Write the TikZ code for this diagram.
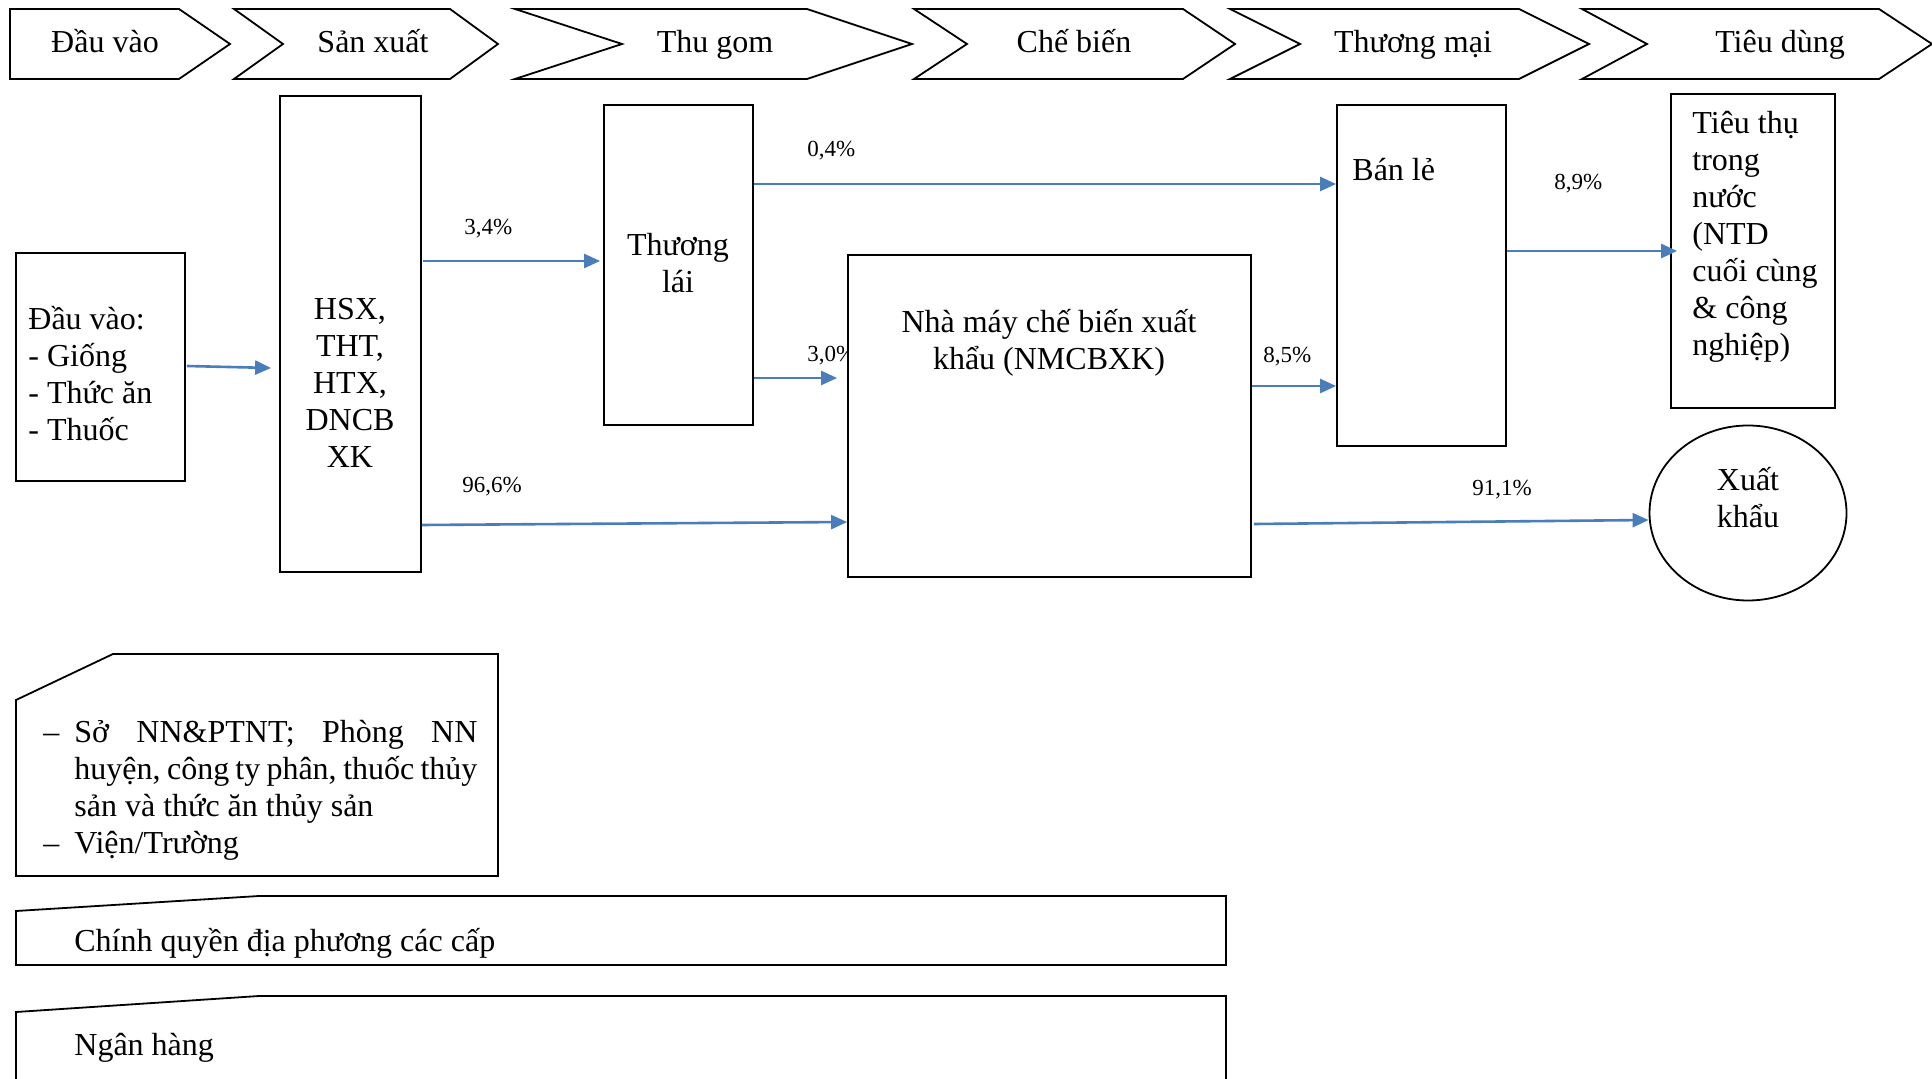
\documentclass[tikz,border=0pt]{standalone}
\usepackage{fontspec}
\setmainfont{Liberation Serif}
\usetikzlibrary{arrows.meta,calc,fit,shapes.geometric}
\definecolor{arrblue}{RGB}{74,126,187}
\begin{document}
\begin{tikzpicture}[x=0.5pt,y=-0.5pt,
  box/.style={draw=black, line width=0.9pt, fill=white, inner sep=0pt},
  txt/.style={font=\fontsize{16}{18.5}\selectfont, inner sep=0pt},
  pct/.style={font=\fontsize{11.5}{13}\selectfont, inner sep=0pt},
  arr/.style={draw=arrblue, line width=1.3pt, -{Triangle[length=8pt,width=7pt]}},
  shp/.style={draw=black, line width=0.9pt, line join=miter}
]
\useasboundingbox[fill=white] (0,0) rectangle (1932,1079);

% ---- top chevrons ----
\draw[shp] (10,9) -- (179,9) -- (230,44) -- (179,79) -- (10,79) -- cycle;
\draw[shp] (234,9) -- (450,9) -- (498,44) -- (450,79) -- (234,79) -- (283,44) -- cycle;
\draw[shp] (515,9) -- (807,9) -- (912,44) -- (807,79) -- (515,79) -- (622,44) -- cycle;
\draw[shp] (914,9) -- (1183,9) -- (1235,44) -- (1183,79) -- (914,79) -- (967,44) -- cycle;
\draw[shp] (1230,9) -- (1519,9) -- (1589,44) -- (1519,79) -- (1230,79) -- (1300,44) -- cycle;
\draw[shp] (1582,9) -- (1879,9) -- (1932,44) -- (1879,79) -- (1582,79) -- (1647,44) -- cycle;
\node[txt, anchor=base] (c1) at (105,53) {Đầu vào};
\node[txt, anchor=base] (c2) at (373,53) {Sản xuất};
\node[txt, anchor=base] (c3) at (715,53) {Thu gom};
\node[txt, anchor=base] (c4) at (1074,53) {Chế biến};
\node[txt, anchor=base] (c5) at (1413,53) {Thương mại};
\node[txt, anchor=base] (c6) at (1780,53) {Tiêu dùng};

% ---- boxes ----
\node[box, fit={(16,253) (185,481)}] (dv) {};
\node[box, fit={(280,96) (421,572)}] (hsx) {};
\node[box, fit={(604,105) (753,425)}] (tl) {};
\node[box, fit={(1337,105) (1506,446)}] (bl) {};
\node[box, fit={(1671,94) (1835,408)}] (tt) {};
\node[box, ellipse, minimum width=98.5pt, minimum height=87.5pt] (xk) at (1748,513) {};

% label partly hidden behind the factory box
\node[pct, anchor=base west] (l30) at (807,362) {3,0\%};
\node[box, fit={(848,255) (1251,577)}] (nm) {};

% ---- texts in boxes (anchor=base = baseline of last line) ----
\node[txt, anchor=base west, align=left] (tdv) at (28,441) {Đầu vào:\\- Giống\\- Thức ăn\\- Thuốc};
\node[txt, anchor=base, align=center] (thsx) at (350,468) {HSX,\\THT,\\HTX,\\DNCB\\XK};
\node[txt, anchor=base, align=center] (ttl) at (678,293) {Thương\\lái};
\node[txt, anchor=base, align=center] (tnm) at (1049,370) {Nhà máy chế biến xuất\\khẩu (NMCBXK)};
\node[txt, anchor=base west] (tbl) at (1352,181) {Bán lẻ};
\node[txt, anchor=base west, align=left] (ttt) at (1692,356) {Tiêu thụ\\trong\\nước\\(NTD\\cuối cùng\\\& công\\nghiệp)};
\node[txt, anchor=base, align=center] (txk) at (1748,528) {Xuất\\khẩu};

% ---- percentages ----
\node[pct, anchor=base west] (l34) at (464,235) {3,4\%};
\node[pct, anchor=base west] (l04) at (807,157) {0,4\%};
\node[pct, anchor=base west] (l966) at (462,493) {96,6\%};
\node[pct, anchor=base west] (l85) at (1263,363) {8,5\%};
\node[pct, anchor=base west] (l89) at (1554,190) {8,9\%};
\node[pct, anchor=base west] (l911) at (1472,496) {91,1\%};

% ---- arrows ----
\draw[arr] ($(dv.east |- 0,366)+(1,0)$) -- ($(hsx.west |- 0,368)+(-8,0)$);
\draw[arr] ($(hsx.east |- 0,261)+(1,0)$) -- ($(tl.west |- 0,261)+(-3,0)$);
\draw[arr] (tl.east |- 0,184) -- (bl.west |- 0,184);
\draw[arr] (tl.east |- 0,378) -- ($(nm.west |- 0,378)+(-10,0)$);
\draw[arr] (hsx.east |- 0,525) -- (nm.west |- 0,522);
\draw[arr] (nm.east |- 0,386) -- (bl.west |- 0,386);
\draw[arr] (bl.east |- 0,251) -- ($(tt.west |- 0,251)+(7,0)$);
\draw[arr] ($(nm.east |- 0,524)+(2,0)$) -- (xk.west |- 0,520);

% ---- bottom boxes ----
\draw[shp] (113,654) -- (498,654) -- (498,876) -- (16,876) -- (16,700) -- cycle;
\node[txt, anchor=base west, text width=217pt, align=justify] (ta) at (43,742)
  {\hangindent=15.5pt\hangafter=1\noindent\makebox[15.5pt][l]{–}Sở NN\&PTNT; Phòng NN\linebreak huyện, công ty phân, thuốc thủy\linebreak sản và thức ăn thủy sản\par
   \noindent\makebox[15.5pt][l]{–}Viện/Trường};
\draw[shp] (259,896) -- (1226,896) -- (1226,965) -- (16,965) -- (16,911) -- cycle;
\node[txt, anchor=base west] (tb) at (74,951) {Chính quyền địa phương các cấp};
\draw[shp] (16,1110) -- (16,1012) -- (259,996) -- (1226,996) -- (1226,1110);
\node[txt, anchor=base west] (tc) at (74,1055) {Ngân hàng};
\end{tikzpicture}
\end{document}
